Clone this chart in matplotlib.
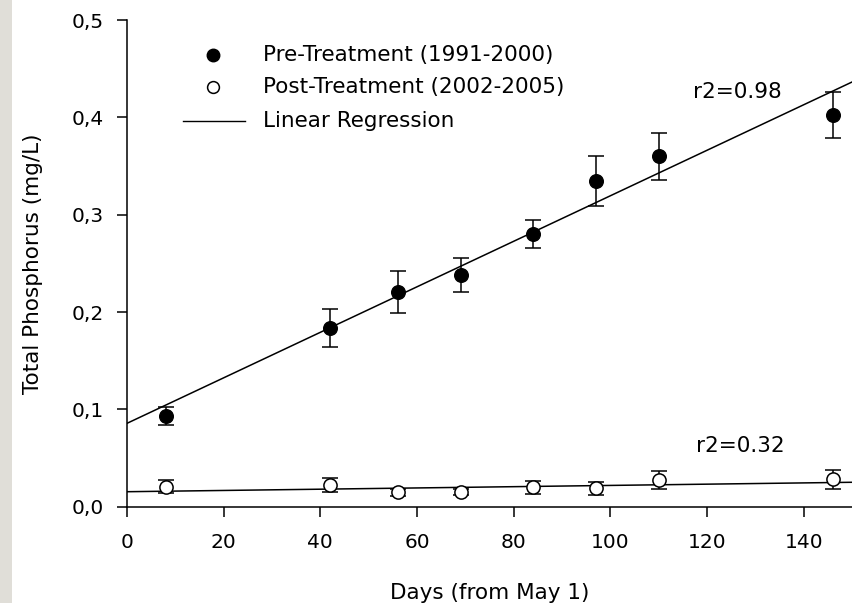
import matplotlib
matplotlib.use("Agg")
import matplotlib.pyplot as plt
from matplotlib.patches import Rectangle
import numpy as np

plt.rcParams['font.family'] = ['DejaVu Sans']

days = [8, 42, 56, 69, 84, 97, 110, 146]
pre_tp = [0.0934, 0.1839, 0.2209, 0.2380, 0.2802, 0.3346, 0.3600, 0.4025]
pre_err = [0.0093, 0.0195, 0.0215, 0.0175, 0.0140, 0.0255, 0.0240, 0.0235]
post_tp = [0.0205, 0.0219, 0.0147, 0.0150, 0.0201, 0.0188, 0.0273, 0.0280]
post_err = [0.0070, 0.0072, 0.0035, 0.0035, 0.0067, 0.0065, 0.0090, 0.0095]

pre_fit = (0.0856, 0.002339)    # intercept, slope
post_fit = (0.0153, 0.0000647)
pre_r2 = "r2=0.98"
post_r2 = "r2=0.32"

xticks = [0, 20, 40, 60, 80, 100, 120, 140]
yticks = [0.0, 0.1, 0.2, 0.3, 0.4, 0.5]
ytick_labels = ["0,0", "0,1", "0,2", "0,3", "0,4", "0,5"]
legend_labels = ["Pre-Treatment (1991-2000)", "Post-Treatment (2002-2005)", "Linear Regression"]

W, H = 852, 603
fig = plt.figure(figsize=(W / 100, H / 100), dpi=100)
fig.patches.append(Rectangle((0, 0), 12 / W, 1, transform=fig.transFigure,
                             facecolor='#e0ded8', edgecolor='none', zorder=0))
X0, Y0, XT = 127, 506.6, 20.2
ax = fig.add_axes([X0 / W, 1 - Y0 / H, 1 - X0 / W, (Y0 - XT) / H])

def axfrac(px, py):
    return (px - X0) / (W - X0), (Y0 - py) / (Y0 - XT)

xx = np.array([0, 150])
ax.plot(xx, pre_fit[0] + pre_fit[1] * xx, color='black', lw=1.1, zorder=2)
ax.plot(xx, post_fit[0] + post_fit[1] * xx, color='black', lw=1.1, zorder=2)

ax.errorbar(days, pre_tp, yerr=pre_err, fmt='none', ecolor='black', elinewidth=1.1,
            capsize=5.6, capthick=1.1, zorder=3)
ax.errorbar(days, post_tp, yerr=post_err, fmt='none', ecolor='black', elinewidth=1.1,
            capsize=5.6, capthick=1.1, zorder=3)
ax.plot(days, pre_tp, 'o', color='black', ms=9.8, zorder=4, clip_on=False)
ax.plot(days, post_tp, 'o', mfc='white', mec='black', mew=1.1, ms=9.5, zorder=4, clip_on=False)

FS = 14.5
LFS = 15.5
ax.text(117, 0.4264, pre_r2, fontsize=LFS, va='center', ha='left')
ax.text(117.8, 0.0626, post_r2, fontsize=LFS, va='center', ha='left')

# legend (manual)
rows_py = [55, 87, 120.5]
mx, my = axfrac(213, rows_py[0])
ax.plot([mx], [my], 'o', color='black', ms=9, transform=ax.transAxes, clip_on=False)
mx, my = axfrac(213, rows_py[1])
ax.plot([mx], [my], 'o', mfc='white', mec='black', mew=1.1, ms=8.5,
        transform=ax.transAxes, clip_on=False)
lx0, ly = axfrac(183, rows_py[2])
lx1, _ = axfrac(245, rows_py[2])
ax.plot([lx0, lx1], [ly, ly], color='black', lw=1, transform=ax.transAxes, clip_on=False)
for lab, py in zip(legend_labels, rows_py):
    tx, ty = axfrac(263, py)
    ax.text(tx, ty, lab, fontsize=LFS, va='center', ha='left', transform=ax.transAxes)

ax.set_xlim(0, 150)
ax.set_ylim(0, 0.5)
ax.set_xticks(xticks)
ax.set_yticks(yticks)
ax.set_yticklabels(ytick_labels)
ax.tick_params(axis='both', direction='out', length=7, width=1.1, labelsize=FS)
ax.tick_params(axis='x', pad=12)
ax.tick_params(axis='y', pad=10)
for s in ['top', 'right']:
    ax.spines[s].set_visible(False)
for s in ['left', 'bottom']:
    ax.spines[s].set_linewidth(1.1)

ax.set_xlabel("Days (from May 1)", fontsize=LFS, labelpad=22)
ax.set_ylabel("Total Phosphorus (mg/L)", fontsize=LFS, labelpad=20)

fig.savefig("out.png", dpi=100)
